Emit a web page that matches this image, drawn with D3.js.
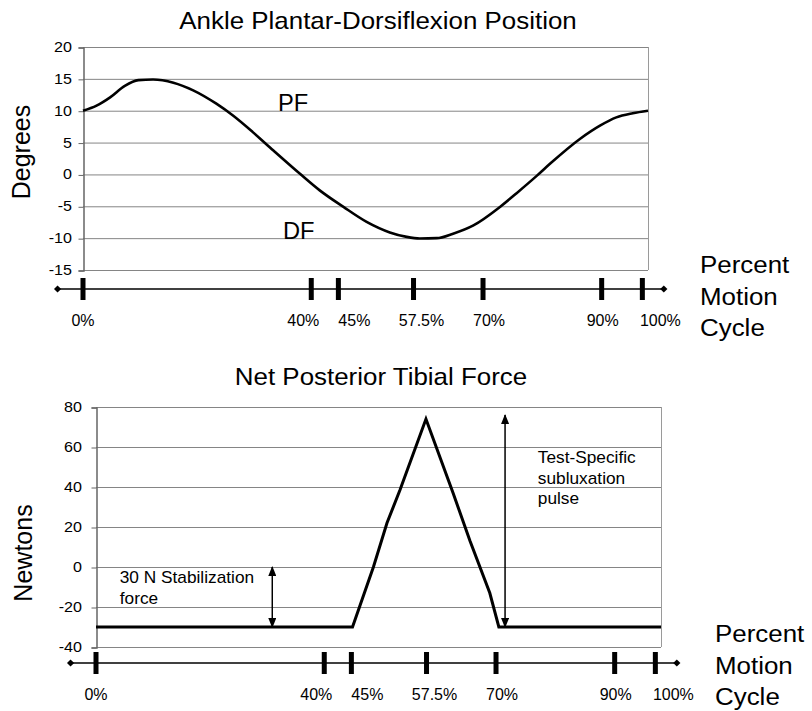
<!DOCTYPE html>
<html>
<head>
<meta charset="utf-8">
<script src="https://cdn.jsdelivr.net/npm/d3@7"></script>
<style>
  body { margin: 0; background: #fff; }
  svg { display: block; font-family: "Liberation Sans", Arial, sans-serif; }
</style>
</head>
<body>
<div id="chart"></div>
<script>
// ankle angle over the motion cycle
var anklePct = [0, 2.4, 4.8, 7.4, 9.8, 12.4, 16, 19.5, 23.6, 26.6, 30.1, 33.7, 38.4, 41.9, 46.1, 50.2,
  54.3, 57.3, 59.6, 62.6, 65.5, 69.1, 73.8, 76.8, 80.4, 82.7, 88, 91.5, 94.4, 97.3, 100];
var ankleDeg = [10, 10.8, 12.1, 13.9, 14.8, 14.9, 14.4, 13.2, 11.1, 9.2, 6.6, 3.75, 0.1, -2.5, -5.1, -7.45,
  -9.1, -9.8, -10.05, -10, -9.3, -8, -5.1, -2.9, -0.15, 1.7, 5.6, 7.65, 8.95, 9.6, 10];

// net posterior tibial force (bottom panel)
var forcePct = [0, 45.4, 49.1, 51.5, 53.8, 58.4, 63.2, 66.2, 69.7, 71.3, 100];
var forceN = [-30, -30, 0, 22, 38.5, 74, 37, 13, -13, -30, -30];

// timeline markers under each panel
var markerLabels = ["0%", "40%", "45%", "57.5%", "70%", "90%", "100%"];
var markerAt = [0, 40.4, 45.2, 58.5, 70.8, 91.8, 99.0];
var timelineEnds = [-4.5, 102.8];

var degTicks = [20, 15, 10, 5, 0, -5, -10, -15];
var newtonTicks = [80, 60, 40, 20, 0, -20, -40];

// annotation arrows on the force panel
var arrowPct = [31.2, 72.4];
var arrowFrom = [-30, -30];
var arrowTo = [0, 76];

var W = 812, H = 711;

var svg = d3.select("#chart").append("svg")
  .attr("width", W)
  .attr("height", H);

svg.append("rect").attr("width", W).attr("height", H).attr("fill", "#fff");

var defs = svg.append("defs");
defs.append("marker")
  .attr("id", "head")
  .attr("viewBox", "0 0 10 8")
  .attr("refX", 9).attr("refY", 4)
  .attr("markerUnits", "userSpaceOnUse")
  .attr("markerWidth", 10).attr("markerHeight", 8)
  .attr("orient", "auto-start-reverse")
  .append("path").attr("d", "M0,0L10,4L0,8z").attr("fill", "#000");

// text is slightly wider than plain Arial in the reference
function label(g, str, x, y, size, anchor, sx) {
  return g.append("text")
    .attr("transform", "translate(" + x + "," + y + ") scale(" + (sx || 1) + ",1)")
    .attr("text-anchor", anchor || "start")
    .attr("font-size", size)
    .attr("fill", "#000")
    .text(str);
}

function drawPanel(cfg) {
  var g = svg.append("g");

  var x = d3.scaleLinear().domain([0, 100]).range([cfg.left, cfg.right]);
  var y = d3.scaleLinear().domain(cfg.yDomain).range([cfg.bottom, cfg.top]);

  // gridlines + frame
  g.selectAll(".grid").data(cfg.ticks).join("line")
    .attr("class", "grid")
    .attr("x1", cfg.left).attr("x2", cfg.right)
    .attr("y1", d => y(d) + 0.5).attr("y2", d => y(d) + 0.5)
    .attr("stroke", "#858585").attr("stroke-width", 1);
  g.append("line")
    .attr("x1", cfg.right + 0.5).attr("x2", cfg.right + 0.5)
    .attr("y1", cfg.top).attr("y2", cfg.bottom)
    .attr("stroke", "#9a9a9a");

  // y axis
  var yAxis = d3.axisLeft(y).tickValues(cfg.ticks).tickSize(5).tickFormat("");
  var ax = g.append("g")
    .attr("transform", "translate(" + (cfg.left + 0.5) + ",0.5)")
    .call(yAxis);
  ax.select(".domain").attr("stroke", "#666").attr("stroke-width", 1.5);
  ax.selectAll(".tick line").attr("stroke", "#666");

  cfg.ticks.forEach(function (t) {
    label(g, String(t), cfg.left - cfg.tickGap, y(t) + 5, 14, "end", 1.15);
  });

  // titles
  label(g, cfg.title, cfg.titleX, cfg.titleY, 24, "middle", 1.08);
  g.append("text")
    .attr("transform", "translate(" + cfg.yLabelX + "," + cfg.yLabelY + ") rotate(-90)")
    .attr("text-anchor", "middle")
    .attr("font-size", 25)
    .text(cfg.yLabel);

  // data line
  var line = d3.line()
    .x((d, i) => x(cfg.xs[i]))
    .y(d => y(d))
    .curve(cfg.curve);
  g.append("path")
    .datum(cfg.ys)
    .attr("fill", "none")
    .attr("stroke", "#000")
    .attr("stroke-width", cfg.lineWidth)
    .attr("stroke-linejoin", "miter")
    .attr("d", line);

  // timeline
  var ty = cfg.bottom + cfg.timelineGap;
  g.append("line")
    .attr("x1", x(timelineEnds[0])).attr("x2", x(timelineEnds[1]))
    .attr("y1", ty).attr("y2", ty)
    .attr("stroke", "#000").attr("stroke-width", 1.5);
  g.selectAll(".end").data(timelineEnds).join("path")
    .attr("class", "end")
    .attr("d", d3.symbol(d3.symbolSquare, 26))
    .attr("transform", d => "translate(" + x(d) + "," + ty + ") rotate(45)")
    .attr("fill", "#000");
  g.selectAll(".mark").data(markerAt).join("rect")
    .attr("class", "mark")
    .attr("x", d => x(d) - 2.5)
    .attr("y", ty - 11)
    .attr("width", 5)
    .attr("height", 22)
    .attr("fill", "#000");

  var nudge = [0, -8, 16, 8, 6, 1, 18];
  markerLabels.forEach(function (s, i) {
    label(g, s, x(markerAt[i]) + nudge[i], ty + 37, 16, "middle", 1);
  });

  ["Percent", "Motion", "Cycle"].forEach(function (s, i) {
    label(g, s, cfg.right + cfg.pmcDx, ty + cfg.pmcDy + i * 31.5, 24, "start", 1.08);
  });

  if (cfg.extra) cfg.extra(g, x, y);
}

drawPanel({
  left: 83, right: 648, top: 47, bottom: 270,
  yDomain: [-15, 20], ticks: degTicks, tickGap: 11,
  title: "Ankle Plantar-Dorsiflexion Position", titleX: 378, titleY: 29,
  yLabel: "Degrees", yLabelX: 30, yLabelY: 152,
  xs: anklePct, ys: ankleDeg, curve: d3.curveMonotoneX, lineWidth: 2.6,
  timelineGap: 19, pmcDx: 52, pmcDy: -16,
  extra: function (g, x, y) {
    label(g, "PF", x(34.5), y(10), 23, "start", 1.03);
    label(g, "DF", x(35.4), y(-10.2), 23, "start", 1.03);
  }
});

drawPanel({
  left: 96, right: 661, top: 407, bottom: 647,
  yDomain: [-40, 80], ticks: newtonTicks, tickGap: 14,
  title: "Net Posterior Tibial Force", titleX: 381, titleY: 385,
  yLabel: "Newtons", yLabelX: 32, yLabelY: 553,
  xs: forcePct, ys: forceN, curve: d3.curveLinear, lineWidth: 3,
  timelineGap: 16, pmcDx: 54, pmcDy: -21,
  extra: function (g, x, y) {
    arrowPct.forEach(function (p, i) {
      g.append("line")
        .attr("x1", x(p)).attr("x2", x(p))
        .attr("y1", y(arrowFrom[i])).attr("y2", y(arrowTo[i]))
        .attr("stroke", "#000").attr("stroke-width", 1.5)
        .attr("marker-start", "url(#head)")
        .attr("marker-end", "url(#head)");
    });
    label(g, "30 N Stabilization", x(4.2), y(-8), 16, "start", 1.08);
    label(g, "force", x(4.2), y(-8) + 21, 16, "start", 1.08);
    ["Test-Specific", "subluxation", "pulse"].forEach(function (s, i) {
      label(g, s, x(78.2), y(52) + i * 20.5, 16, "start", 1.08);
    });
  }
});
</script>
</body>
</html>
